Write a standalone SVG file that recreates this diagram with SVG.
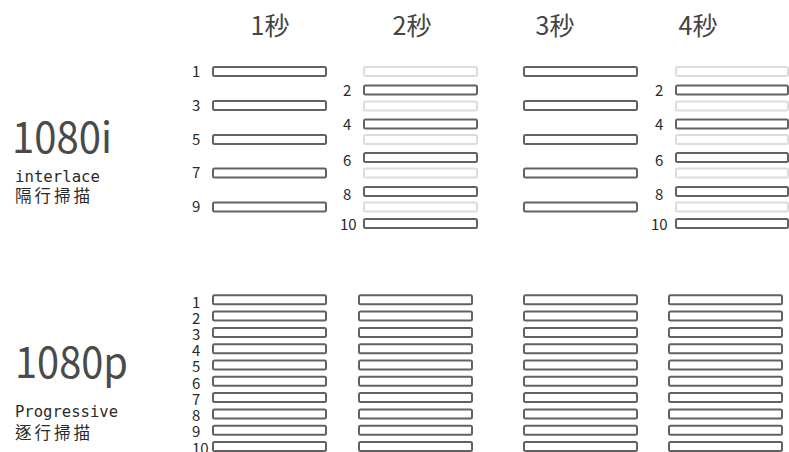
<svg xmlns="http://www.w3.org/2000/svg" width="789" height="452" viewBox="0 0 789 452">
<style>
.d{fill:#fff;stroke:#626262;stroke-width:2}
.g{fill:#fff;stroke:#dcdcdc;stroke-width:2}
.n{font-family:"Noto Sans CJK JP","Noto Sans",sans-serif;font-size:15px;fill:#2a2a2a}
.h{font-family:"Noto Sans CJK JP","Noto Sans",sans-serif;font-size:25px;fill:#444;text-anchor:middle}
.big{font-family:"Noto Sans CJK JP","Noto Sans",sans-serif;font-size:43px;fill:#4a4a4a}
.mono{font-family:"DejaVu Sans Mono","Liberation Mono",monospace;font-size:15px;fill:#2a2a2a}
.cjk{font-family:"Noto Sans CJK TC","Noto Sans CJK JP",sans-serif;font-size:16.5px;fill:#2a2a2a}
</style>
<rect width="789" height="452" fill="#fff"/>
<g id="headers">
<text class="h" x="270" y="35">1秒</text>
<text class="h" x="412" y="35">2秒</text>
<text class="h" x="555" y="35">3秒</text>
<text class="h" x="698" y="35">4秒</text>
</g>
<g id="label-1080i">
<text class="big" x="12" y="153" textLength="100" lengthAdjust="spacingAndGlyphs">1080i</text>
<text class="mono" x="15" y="182" textLength="85" lengthAdjust="spacingAndGlyphs">interlace</text>
<text class="cjk" x="15" y="202" textLength="75" lengthAdjust="spacing">隔行掃描</text>
</g>
<g id="label-1080p">
<text class="big" x="15" y="378" font-size="45" textLength="113" lengthAdjust="spacingAndGlyphs">1080p</text>
<text class="mono" x="15" y="417" textLength="103" lengthAdjust="spacingAndGlyphs">Progressive</text>
<text class="cjk" x="15" y="439" textLength="75" lengthAdjust="spacing">逐行掃描</text>
</g>
<g id="i-sec1">
<rect class="d" x="213" y="67" width="113" height="9" rx="1.5"/>
<rect class="d" x="213" y="101" width="113" height="9" rx="1.5"/>
<rect class="d" x="213" y="135" width="113" height="9" rx="1.5"/>
<rect class="d" x="213" y="168.5" width="113" height="9" rx="1.5"/>
<rect class="d" x="213" y="202.5" width="113" height="9" rx="1.5"/>
<text class="n" x="192" y="77">1</text>
<text class="n" x="192" y="111">3</text>
<text class="n" x="192" y="145">5</text>
<text class="n" x="192" y="178">7</text>
<text class="n" x="192" y="212">9</text>
</g>
<g id="i-sec2">
<rect class="g" x="364" y="67" width="113" height="9" rx="1.5"/>
<rect class="g" x="364" y="101.5" width="113" height="9" rx="1.5"/>
<rect class="g" x="364" y="135" width="113" height="9" rx="1.5"/>
<rect class="g" x="364" y="168.5" width="113" height="9" rx="1.5"/>
<rect class="g" x="364" y="202.5" width="113" height="9" rx="1.5"/>
<rect class="d" x="364" y="85.5" width="113" height="9" rx="1.5"/>
<rect class="d" x="364" y="119.5" width="113" height="9" rx="1.5"/>
<rect class="d" x="364" y="153" width="113" height="9" rx="1.5"/>
<rect class="d" x="364" y="187" width="113" height="9" rx="1.5"/>
<rect class="d" x="364" y="219" width="113" height="9" rx="1.5"/>
<text class="n" x="343" y="96">2</text>
<text class="n" x="343" y="130">4</text>
<text class="n" x="343" y="166">6</text>
<text class="n" x="343" y="200">8</text>
<text class="n" x="340" y="230">10</text>
</g>
<g id="i-sec3">
<rect class="d" x="524" y="67" width="113" height="9" rx="1.5"/>
<rect class="d" x="524" y="101" width="113" height="9" rx="1.5"/>
<rect class="d" x="524" y="135" width="113" height="9" rx="1.5"/>
<rect class="d" x="524" y="168.5" width="113" height="9" rx="1.5"/>
<rect class="d" x="524" y="202.5" width="113" height="9" rx="1.5"/>
</g>
<g id="i-sec4">
<rect class="g" x="676" y="67" width="112" height="9" rx="1.5"/>
<rect class="g" x="676" y="101.5" width="112" height="9" rx="1.5"/>
<rect class="g" x="676" y="135" width="112" height="9" rx="1.5"/>
<rect class="g" x="676" y="168.5" width="112" height="9" rx="1.5"/>
<rect class="g" x="676" y="202.5" width="112" height="9" rx="1.5"/>
<rect class="d" x="676" y="85.5" width="112" height="9" rx="1.5"/>
<rect class="d" x="676" y="119.5" width="112" height="9" rx="1.5"/>
<rect class="d" x="676" y="153" width="112" height="9" rx="1.5"/>
<rect class="d" x="676" y="187" width="112" height="9" rx="1.5"/>
<rect class="d" x="676" y="219" width="112" height="9" rx="1.5"/>
<text class="n" x="655" y="96">2</text>
<text class="n" x="655" y="130">4</text>
<text class="n" x="655" y="166">6</text>
<text class="n" x="655" y="200">8</text>
<text class="n" x="651" y="230">10</text>
</g>
<g id="p-sec1">
<rect class="d" x="213" y="295.3" width="113" height="9" rx="1.5"/>
<rect class="d" x="213" y="311.6" width="113" height="9" rx="1.5"/>
<rect class="d" x="213" y="327.9" width="113" height="9" rx="1.5"/>
<rect class="d" x="213" y="344.2" width="113" height="9" rx="1.5"/>
<rect class="d" x="213" y="360.5" width="113" height="9" rx="1.5"/>
<rect class="d" x="213" y="376.8" width="113" height="9" rx="1.5"/>
<rect class="d" x="213" y="393.1" width="113" height="9" rx="1.5"/>
<rect class="d" x="213" y="409.4" width="113" height="9" rx="1.5"/>
<rect class="d" x="213" y="425.7" width="113" height="9" rx="1.5"/>
<rect class="d" x="213" y="442" width="113" height="9" rx="1.5"/>
<text class="n" x="192" y="308">1</text>
<text class="n" x="192" y="324">2</text>
<text class="n" x="192" y="340">3</text>
<text class="n" x="192" y="356">4</text>
<text class="n" x="192" y="372">5</text>
<text class="n" x="192" y="389">6</text>
<text class="n" x="192" y="405">7</text>
<text class="n" x="192" y="421">8</text>
<text class="n" x="192" y="437">9</text>
<text class="n" x="192" y="454">10</text>
</g>
<g id="p-sec2">
<rect class="d" x="359" y="295.3" width="113" height="9" rx="1.5"/>
<rect class="d" x="359" y="311.6" width="113" height="9" rx="1.5"/>
<rect class="d" x="359" y="327.9" width="113" height="9" rx="1.5"/>
<rect class="d" x="359" y="344.2" width="113" height="9" rx="1.5"/>
<rect class="d" x="359" y="360.5" width="113" height="9" rx="1.5"/>
<rect class="d" x="359" y="376.8" width="113" height="9" rx="1.5"/>
<rect class="d" x="359" y="393.1" width="113" height="9" rx="1.5"/>
<rect class="d" x="359" y="409.4" width="113" height="9" rx="1.5"/>
<rect class="d" x="359" y="425.7" width="113" height="9" rx="1.5"/>
<rect class="d" x="359" y="442" width="113" height="9" rx="1.5"/>
</g>
<g id="p-sec3">
<rect class="d" x="524" y="295.3" width="113" height="9" rx="1.5"/>
<rect class="d" x="524" y="311.6" width="113" height="9" rx="1.5"/>
<rect class="d" x="524" y="327.9" width="113" height="9" rx="1.5"/>
<rect class="d" x="524" y="344.2" width="113" height="9" rx="1.5"/>
<rect class="d" x="524" y="360.5" width="113" height="9" rx="1.5"/>
<rect class="d" x="524" y="376.8" width="113" height="9" rx="1.5"/>
<rect class="d" x="524" y="393.1" width="113" height="9" rx="1.5"/>
<rect class="d" x="524" y="409.4" width="113" height="9" rx="1.5"/>
<rect class="d" x="524" y="425.7" width="113" height="9" rx="1.5"/>
<rect class="d" x="524" y="442" width="113" height="9" rx="1.5"/>
</g>
<g id="p-sec4">
<rect class="d" x="669" y="295.3" width="113" height="9" rx="1.5"/>
<rect class="d" x="669" y="311.6" width="113" height="9" rx="1.5"/>
<rect class="d" x="669" y="327.9" width="113" height="9" rx="1.5"/>
<rect class="d" x="669" y="344.2" width="113" height="9" rx="1.5"/>
<rect class="d" x="669" y="360.5" width="113" height="9" rx="1.5"/>
<rect class="d" x="669" y="376.8" width="113" height="9" rx="1.5"/>
<rect class="d" x="669" y="393.1" width="113" height="9" rx="1.5"/>
<rect class="d" x="669" y="409.4" width="113" height="9" rx="1.5"/>
<rect class="d" x="669" y="425.7" width="113" height="9" rx="1.5"/>
<rect class="d" x="669" y="442" width="113" height="9" rx="1.5"/>
</g>
</svg>
